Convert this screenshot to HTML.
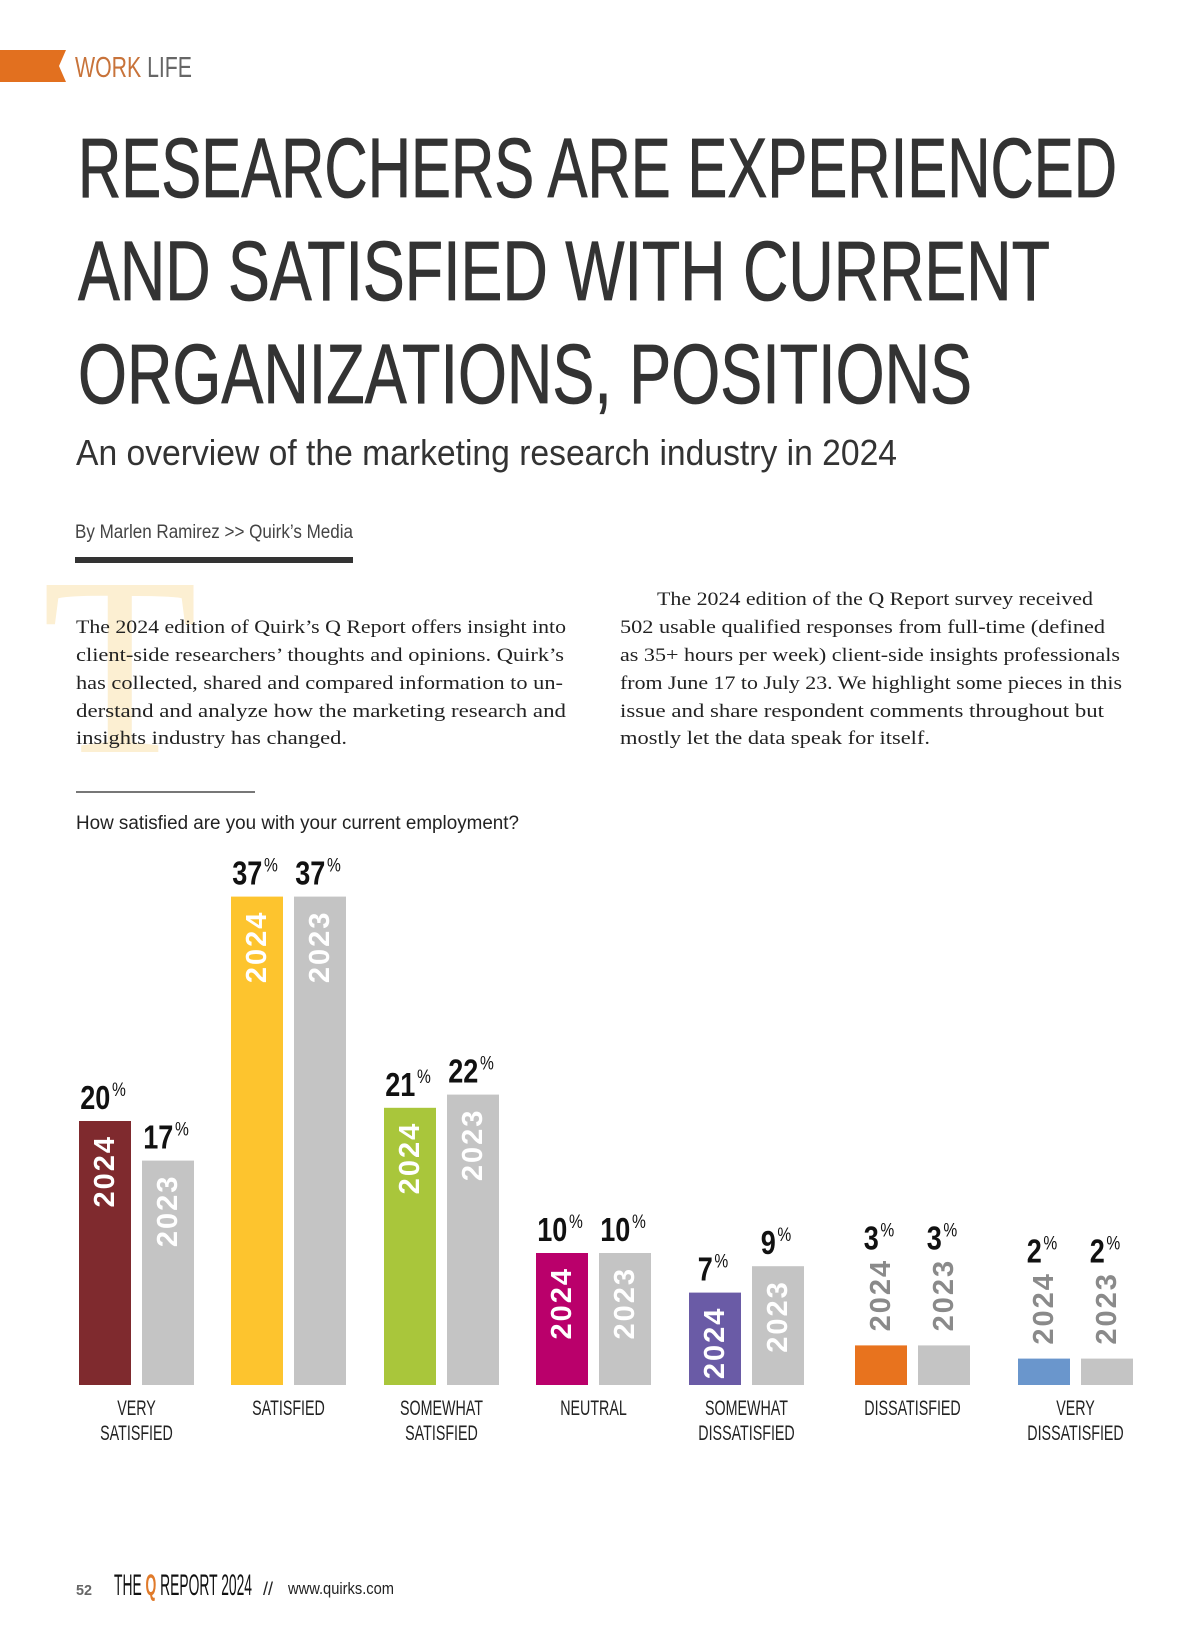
<!DOCTYPE html>
<html><head><meta charset="utf-8"><style>
html,body{margin:0;padding:0;background:#fff;}
svg{display:block;}
</style></head><body>
<svg id="page" width="1200" height="1631" viewBox="0 0 1200 1631" xmlns="http://www.w3.org/2000/svg" font-family="Liberation Sans, sans-serif">
<rect width="1200" height="1631" fill="#fff"/>
<polygon points="0,50 66,50 59,66 66,82 0,82" fill="#e2701f"/>
<text x="75" y="77" font-size="29" textLength="117" lengthAdjust="spacingAndGlyphs"><tspan fill="#c8733a">WORK</tspan><tspan fill="#666"> LIFE</tspan></text>
<g fill="#333" stroke="#333" stroke-width="0.8" font-size="84">
<text x="78" y="197" textLength="1039" lengthAdjust="spacingAndGlyphs">RESEARCHERS ARE EXPERIENCED</text>
<text x="78" y="300" textLength="972" lengthAdjust="spacingAndGlyphs">AND SATISFIED WITH CURRENT</text>
<text x="78" y="403" textLength="894" lengthAdjust="spacingAndGlyphs">ORGANIZATIONS, POSITIONS</text>
</g>
<text x="76" y="465" font-size="36" fill="#333" textLength="821" lengthAdjust="spacingAndGlyphs">An overview of the marketing research industry in 2024</text>
<text x="75" y="538" font-size="19" fill="#444" textLength="278" lengthAdjust="spacingAndGlyphs">By Marlen Ramirez  &gt;&gt; Quirk’s Media</text>
<rect x="75" y="557" width="278" height="6" fill="#333"/>
<text x="42" y="752" font-size="255" font-family="Liberation Serif, serif" fill="#fcefd2">T</text>
<g font-family="Liberation Serif, serif" font-size="19" fill="#222">
<text x="76" y="633" textLength="490" lengthAdjust="spacingAndGlyphs">The 2024 edition of Quirk’s Q Report offers insight into</text>
<text x="76" y="661" textLength="488" lengthAdjust="spacingAndGlyphs">client-side researchers’ thoughts and opinions. Quirk’s</text>
<text x="76" y="689" textLength="487" lengthAdjust="spacingAndGlyphs">has collected, shared and compared information to un-</text>
<text x="76" y="717" textLength="490" lengthAdjust="spacingAndGlyphs">derstand and analyze how the marketing research and</text>
<text x="76" y="744" textLength="271" lengthAdjust="spacingAndGlyphs">insights industry has changed.</text>
</g>
<g font-family="Liberation Serif, serif" font-size="19" fill="#222">
<text x="657" y="605" textLength="436" lengthAdjust="spacingAndGlyphs">The 2024 edition of the Q Report survey received</text>
<text x="620" y="633" textLength="485" lengthAdjust="spacingAndGlyphs">502 usable qualified responses from full-time (defined</text>
<text x="620" y="661" textLength="500" lengthAdjust="spacingAndGlyphs">as 35+ hours per week) client-side insights professionals</text>
<text x="620" y="689" textLength="502" lengthAdjust="spacingAndGlyphs">from June 17 to July 23. We highlight some pieces in this</text>
<text x="620" y="717" textLength="484" lengthAdjust="spacingAndGlyphs">issue and share respondent comments throughout but</text>
<text x="620" y="744" textLength="310" lengthAdjust="spacingAndGlyphs">mostly let the data speak for itself.</text>
</g>
<rect x="76" y="791" width="179" height="2" fill="#777"/>
<text x="76" y="829" font-size="19" fill="#222" textLength="443" lengthAdjust="spacingAndGlyphs">How satisfied are you with your current employment?</text>
<g id="chart"></g>
<g>
<text x="76" y="1595" font-size="15" font-weight="bold" fill="#666" textLength="16" lengthAdjust="spacingAndGlyphs">52</text>
<text x="114" y="1595" font-size="30" fill="#111" textLength="138" lengthAdjust="spacingAndGlyphs">THE <tspan fill="#e07a2a" font-weight="bold">Q</tspan> REPORT 2024</text>
<text x="263" y="1595" font-size="18" fill="#222">//</text>
<text x="288" y="1594" font-size="17" fill="#222" textLength="106" lengthAdjust="spacingAndGlyphs">www.quirks.com</text>
</g>
</svg>
<script>
const categories = [["VERY","SATISFIED"],["SATISFIED"],["SOMEWHAT","SATISFIED"],["NEUTRAL"],["SOMEWHAT","DISSATISFIED"],["DISSATISFIED"],["VERY","DISSATISFIED"]];
const values2024 = [20, 37, 21, 10, 7, 3, 2];
const values2023 = [17, 37, 22, 10, 9, 3, 2];
const seriesLabels = ["2024", "2023"];
const colors2024 = ["#7f2a2e","#fdc42e","#a9c63b","#ba006b","#6a5ba6","#e8731e","#6a96cc"];
const color2023 = "#c4c4c4";
const groupLeft = [79, 231, 384, 536, 689, 855, 1018];

const NS = "http://www.w3.org/2000/svg";
const chart = document.getElementById('chart');
const baseY = 1385, pxPer = 13.2, barW = 52, pairOff = 63;
function y(v){ return baseY - v * pxPer; }
function mk(tag, attrs){ const e = document.createElementNS(NS, tag); for (const k in attrs) e.setAttribute(k, attrs[k]); return e; }

categories.forEach((cat, i) => {
  [values2024[i], values2023[i]].forEach((v, s) => {
    const x = groupLeft[i] + s * pairOff;
    const top = y(v);
    const r = mk('rect', {x: x, y: top, width: barW, height: baseY - top, fill: s === 0 ? colors2024[i] : color2023});
    
    
    chart.appendChild(r);
    const cx = x + barW / 2;
    const inside = v >= 6;
    const yEnd = inside ? top + 14 : top - 14;
    const yt = mk('text', {x: 0, y: 0, 'font-size': 29, 'font-weight': 'bold', fill: inside ? '#fff' : '#8a8a8a', 'text-anchor': inside ? 'end' : 'start', 'dominant-baseline': 'central', 'letter-spacing': 2, transform: 'translate(' + cx + ',' + yEnd + ') rotate(-90)'});
    yt.textContent = seriesLabels[s];
    
    
    chart.appendChild(yt);
    const vb = inside ? top - 12 : top - 96;
    const vt = mk('text', {x: 0, y: 0, 'font-size': 33, 'font-weight': 'bold', fill: '#111', 'text-anchor': 'middle', transform: 'translate(' + (cx - 2) + ',' + vb + ') scale(0.82,1)'});
    vt.textContent = v;
    const sup = mk('tspan', {'font-size': 19, 'font-weight': 'normal', dy: -13, dx: 2});
    sup.textContent = '%';
    vt.appendChild(sup);
    
    
    chart.appendChild(vt);
  });
  const lc = groupLeft[i] + (pairOff + barW) / 2;
  cat.forEach((line, j) => {
    const t = mk('text', {x: 0, y: 0, 'font-size': 21, fill: '#222', 'text-anchor': 'middle', transform: 'translate(' + lc + ',' + (1415 + j * 25) + ') scale(0.68,1)'});
    t.textContent = line;
    
    
    chart.appendChild(t);
  });
});
</script>
</body></html>
